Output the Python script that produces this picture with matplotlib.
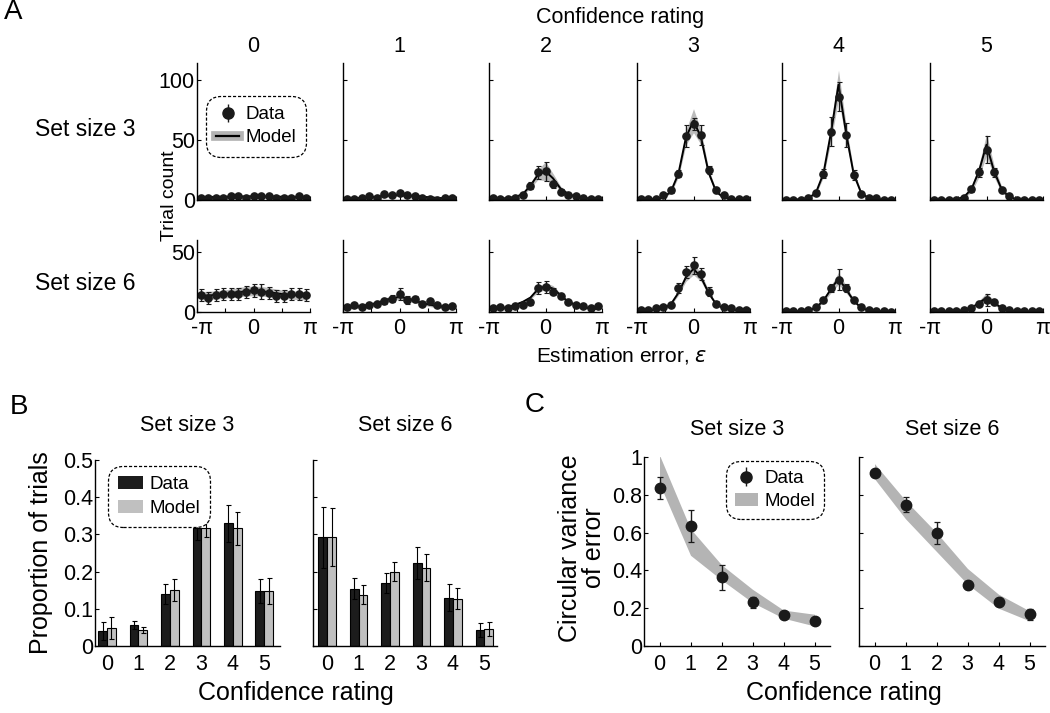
import matplotlib
matplotlib.use("Agg")
import matplotlib.pyplot as plt
import numpy as np
from matplotlib.lines import Line2D
from matplotlib.patches import Patch

plt.rcParams["font.family"] = ["Liberation Sans", "DejaVu Sans"]
plt.rcParams["axes.linewidth"] = 1.0

W, H = 1050, 713

# ---------------- Panel A data: 15 error bins, confidence 0..5 ----------------
ratings = [0, 1, 2, 3, 4, 5]
n_bins = 15

counts_ss3 = [
    [2, 2, 2, 2, 3, 3, 2, 3, 3, 3, 2, 2, 2, 3, 2],
    [1, 1, 2, 3, 2, 5, 4, 6, 4, 3, 2, 1, 0, 2, 2],
    [2, 1, 1, 2, 4, 12, 23, 24, 13, 7, 4, 3, 2, 1, 1],
    [1, 1, 1, 4, 8, 22, 53, 63, 54, 25, 8, 4, 1, 1, 1],
    [0, 0, 0, 2, 6, 22, 57, 86, 54, 21, 5, 2, 2, 0, 0],
    [0, 0, 0, 0, 2, 9, 23, 42, 23, 8, 3, 0, 0, 0, 0],
]
err_ss3 = [
    [0.8, 0.8, 0.8, 0.8, 0.8, 0.8, 0.8, 0.8, 0.8, 0.8, 0.8, 0.8, 0.8, 0.8, 0.8],
    [0.8, 0.8, 0.8, 1, 1, 1.5, 1.5, 1.5, 1.5, 1, 1, 0.8, 0.8, 0.8, 0.8],
    [1, 1, 1, 1, 1.5, 3, 5.5, 8, 3, 2, 1.5, 1, 1, 1, 1],
    [0.8, 0.8, 0.8, 1, 2, 3, 9, 5, 8, 3, 2, 1, 0.8, 0.8, 0.8],
    [0.5, 0.5, 0.5, 1, 2, 4, 12, 12, 10, 4, 2, 1, 1, 0.5, 0.5],
    [0.5, 0.5, 0.5, 0.5, 1, 2, 4, 11, 4, 2, 1, 0.5, 0.5, 0.5, 0.5],
]
model_ss3 = [
    [2.3, 2.4, 2.5, 2.6, 2.7, 2.8, 2.9, 3.0, 2.9, 2.8, 2.7, 2.6, 2.5, 2.4, 2.3],
    [1.2, 1.4, 1.8, 2.2, 2.8, 3.4, 3.9, 4.1, 3.9, 3.4, 2.8, 2.2, 1.8, 1.4, 1.2],
    [1, 1.2, 1.6, 2.5, 5, 12, 21, 24, 18, 9.5, 5, 2.8, 1.8, 1.2, 1],
    [0.5, 0.7, 1, 2, 7, 22, 52, 66, 52, 23, 7, 2, 1, 0.7, 0.5],
    [0.3, 0.4, 0.6, 1.5, 6, 22, 56, 96, 56, 22, 6, 1.5, 0.6, 0.4, 0.3],
    [0.2, 0.3, 0.4, 0.7, 2.5, 9, 24, 46, 24, 9, 2.5, 0.7, 0.4, 0.3, 0.2],
]
band_ss3 = [
    [1.5, 1.5, 1.5, 1.5, 1.5, 1.5, 1.5, 1.5, 1.5, 1.5, 1.5, 1.5, 1.5, 1.5, 1.5],
    [1, 1, 1, 1, 1, 1, 1, 1, 1, 1, 1, 1, 1, 1, 1],
    [0.5, 0.5, 0.5, 0.8, 1.2, 2, 4, 8, 4, 2, 1.2, 0.8, 0.5, 0.5, 0.5],
    [0.3, 0.3, 0.4, 0.6, 1.5, 3, 6, 10, 6, 3, 1.5, 0.6, 0.4, 0.3, 0.3],
    [0.2, 0.2, 0.3, 0.5, 1.5, 3, 7, 12, 7, 3, 1.5, 0.5, 0.3, 0.2, 0.2],
    [0.2, 0.2, 0.3, 0.4, 1, 2.5, 5, 9, 5, 2.5, 1, 0.4, 0.3, 0.2, 0.2],
]

counts_ss6 = [
    [14, 12, 14, 15, 15, 15, 17, 18, 17, 16, 13, 13, 15, 15, 14],
    [4, 6, 4, 6, 7, 9, 11, 15, 10, 11, 7, 9, 6, 4, 5],
    [3, 4, 3, 5, 6, 8, 20, 21, 17, 13, 8, 6, 5, 3, 5],
    [2, 2, 3, 4, 6, 20, 33, 39, 32, 17, 7, 4, 3, 2, 2],
    [1, 1, 1, 2, 4, 10, 20, 27, 20, 10, 4, 2, 1, 1, 0],
    [1, 1, 1, 1, 2, 3, 7, 10, 8, 3, 2, 1, 1, 1, 1],
]
err_ss6 = [
    [5, 5, 5, 5, 5, 5, 5, 5.5, 6, 5, 5, 5, 5, 5, 5],
    [1.5, 1.5, 1.5, 1.5, 2, 2.5, 3, 5, 3, 2.5, 2, 2, 1.5, 1.5, 1.5],
    [1, 1, 1, 1, 1.5, 2, 5, 5, 3, 2, 1.5, 1, 1, 1, 1],
    [0.8, 0.8, 1, 1, 1.5, 4, 5, 7, 5, 4, 2, 1, 1, 0.8, 0.8],
    [0.5, 0.5, 0.5, 0.5, 1, 2, 3, 9, 3, 2, 1, 0.5, 0.5, 0.5, 0.5],
    [0.5, 0.5, 0.5, 0.5, 0.5, 1, 2, 5, 2, 1, 0.5, 0.5, 0.5, 0.5, 0.5],
]
model_ss6 = [
    [13.5, 13.8, 14.2, 14.8, 15.6, 16.5, 17.3, 17.6, 17.3, 16.5, 15.6, 14.8, 14.2, 13.8, 13.5],
    [4, 4.3, 5, 6, 7.5, 9.5, 11.5, 12.5, 11.5, 9.5, 7.5, 6, 5, 4.3, 4],
    [2.5, 3, 4, 6, 8.5, 12, 19, 21.5, 19.5, 14, 8.5, 6, 4, 3, 2.5],
    [1, 1.2, 1.8, 3, 6.5, 16, 29, 36, 29, 16, 6.5, 3, 1.8, 1.2, 1],
    [0.5, 0.6, 0.8, 1.3, 3.5, 9.5, 19, 28, 19, 9.5, 3.5, 1.3, 0.8, 0.6, 0.5],
    [0.5, 0.5, 0.6, 0.8, 1.5, 3.5, 7.5, 12, 7.5, 3.5, 1.5, 0.8, 0.6, 0.5, 0.5],
]
band_ss6 = [
    [3.5, 3.5, 3.5, 3.5, 3.5, 4, 4, 4, 4, 4, 3.5, 3.5, 3.5, 3.5, 3.5],
    [1.5, 1.5, 1.5, 1.5, 1.5, 2, 2, 2, 2, 2, 1.5, 1.5, 1.5, 1.5, 1.5],
    [0.5, 0.5, 0.6, 0.8, 1, 1.5, 2.5, 3, 2.5, 1.5, 1, 0.8, 0.6, 0.5, 0.5],
    [0.3, 0.3, 0.4, 0.6, 1, 2, 3.5, 5, 3.5, 2, 1, 0.6, 0.4, 0.3, 0.3],
    [0.2, 0.2, 0.3, 0.4, 0.8, 1.5, 3, 5, 3, 1.5, 0.8, 0.4, 0.3, 0.2, 0.2],
    [0.2, 0.2, 0.2, 0.3, 0.5, 1, 2, 4, 2, 1, 0.5, 0.3, 0.2, 0.2, 0.2],
]

# ---------------- Panel B data: proportion of trials ----------------
prop_data_ss3 = [0.040, 0.056, 0.140, 0.316, 0.330, 0.148]
prop_data_err_ss3 = [0.025, 0.010, 0.026, 0.030, 0.050, 0.032]
prop_model_ss3 = [0.049, 0.043, 0.150, 0.316, 0.316, 0.148]
prop_model_err_ss3 = [0.030, 0.009, 0.030, 0.022, 0.045, 0.035]

prop_data_ss6 = [0.292, 0.154, 0.170, 0.223, 0.130, 0.043]
prop_data_err_ss6 = [0.083, 0.028, 0.027, 0.042, 0.037, 0.020]
prop_model_ss6 = [0.292, 0.138, 0.200, 0.210, 0.127, 0.046]
prop_model_err_ss6 = [0.078, 0.025, 0.025, 0.036, 0.028, 0.018]

# ---------------- Panel C data: circular variance ----------------
cv_data_ss3 = [0.836, 0.636, 0.364, 0.231, 0.164, 0.130]
cv_err_ss3 = [0.058, 0.086, 0.066, 0.030, 0.015, 0.010]
cv_model_lo_ss3 = [0.86, 0.48, 0.35, 0.23, 0.147, 0.106]
cv_model_hi_ss3 = [1.01, 0.62, 0.43, 0.30, 0.19, 0.168]

cv_data_ss6 = [0.915, 0.747, 0.598, 0.322, 0.234, 0.168]
cv_err_ss6 = [0.012, 0.040, 0.057, 0.020, 0.012, 0.030]
cv_model_lo_ss6 = [0.885, 0.673, 0.50, 0.327, 0.20, 0.133]
cv_model_hi_ss6 = [0.965, 0.77, 0.60, 0.41, 0.274, 0.186]

BAND_GRAY = "#b4b4b4"
BAR_DARK = "#1c1c1c"
BAR_LIGHT = "#c0c0c0"

TICK_FS = 15.5
LABEL_FS = 18
HEAD_FS = 15.5

fig = plt.figure(figsize=(W / 100, H / 100), dpi=100)


def px_axes(x0, y0, x1, y1):
    return fig.add_axes([x0 / W, 1 - y1 / H, (x1 - x0) / W, (y1 - y0) / H])


def clean(ax):
    ax.spines["top"].set_visible(False)
    ax.spines["right"].set_visible(False)
    ax.tick_params(direction="in", length=3, width=0.8, labelsize=TICK_FS, pad=2)
    ax.tick_params(axis="x", pad=4)
    ax.tick_params(axis="y", pad=1.5)


def dashed_legend(leg):
    frame = leg.get_frame()
    frame.set_linestyle((0, (2.5, 1.5)))
    frame.set_edgecolor("black")
    frame.set_linewidth(0.9)
    frame.set_boxstyle("round,pad=0.2,rounding_size=0.8")


# ---------------- Panel A ----------------
x_centers = -np.pi + (2 * np.arange(n_bins) + 1) * np.pi / n_bins
col_left = [197, 343, 489, 637, 782, 930]
col_w = 113

rows = [
    (counts_ss3, err_ss3, model_ss3, band_ss3, 63, 200, 114, [0, 50, 100]),
    (counts_ss6, err_ss6, model_ss6, band_ss6, 240, 312, 60, [0, 50]),
]

for r, (cnt, err, mod, band, y0, y1, ymax, yt) in enumerate(rows):
    for c in range(6):
        ax = px_axes(col_left[c], y0, col_left[c] + col_w, y1)
        clean(ax)
        m = np.array(mod[c])
        b = np.array(band[c])
        ax.fill_between(x_centers, m - b, m + b, color=BAND_GRAY, lw=0, alpha=0.9)
        ax.plot(x_centers, m, color="black", lw=1.4)
        ax.errorbar(x_centers, cnt[c], yerr=err[c], fmt="o", color="#1a1a1a",
                    ms=5.2, elinewidth=1.0, capsize=1.8, capthick=0.8)
        ax.set_xlim(-np.pi, np.pi)
        ax.set_ylim(0, ymax)
        ax.set_yticks(yt)
        ax.set_xticks([-np.pi, -np.pi / 2, 0, np.pi / 2, np.pi])
        if r == 1 and c == 0:
            # first "-π" sits a little right, clear of the "0" y tick label
            ax.set_xticklabels(["", "", "0", "", "π"])
            ax.annotate("-π", xy=(-np.pi, 0), xycoords=("data", "axes fraction"),
                        xytext=(4, -4), textcoords="offset points",
                        ha="center", va="top", fontsize=TICK_FS)
        elif r == 1:
            ax.set_xticklabels(["-π", "", "0", "", "π"])
        else:
            ax.set_xticklabels([])
        if c == 0:
            ax.set_yticklabels([str(v) for v in yt])
        else:
            ax.set_yticklabels([])
        if r == 0:
            fig.text((col_left[c] + col_w / 2) / W, 1 - 47 / H, str(ratings[c]),
                     ha="center", va="center", fontsize=HEAD_FS)
        if r == 0 and c == 0:
            h_data = ax.errorbar([], [], yerr=[], fmt="o", color="#1a1a1a", ms=8,
                                 elinewidth=1.0, capsize=3, capthick=1.0)
            h_model = (Line2D([], [], color=BAND_GRAY, lw=7),
                       Line2D([], [], color="black", lw=1.6))
            leg = ax.legend([h_data, h_model], ["Data", "Model"], loc="upper left",
                            bbox_to_anchor=(0.03, 0.8), fontsize=13.5, frameon=True,
                            handlelength=1.2, handletextpad=0.35, borderpad=0.35,
                            labelspacing=0.3, framealpha=1)
            dashed_legend(leg)

fig.text(620 / W, 1 - 17 / H, "Confidence rating", ha="center", va="center", fontsize=HEAD_FS)
fig.text(622 / W, 1 - 355 / H, "Estimation error, $\\it{\\varepsilon}$", ha="center",
         va="center", fontsize=15)
fig.text(85 / W, 1 - 130 / H, "Set size 3", ha="center", va="center", fontsize=16.5)
fig.text(85 / W, 1 - 283 / H, "Set size 6", ha="center", va="center", fontsize=16.5)
fig.text(170 / W, 1 - 196 / H, "Trial count", ha="center", va="center", rotation=90,
         fontsize=14)

# ---------------- Panel B ----------------
bw = 0.28
b_specs = [
    (95, 280, prop_data_ss3, prop_data_err_ss3, prop_model_ss3, prop_model_err_ss3, "Set size 3", (-0.38, 5.5)),
    (313, 497, prop_data_ss6, prop_data_err_ss6, prop_model_ss6, prop_model_err_ss6, "Set size 6", (-0.45, 5.4)),
]
for i, (x0, x1, dv, de, mv, me, title, xl) in enumerate(b_specs):
    ax = px_axes(x0, 460, x1, 646)
    clean(ax)
    xs = np.array(ratings)
    ax.bar(xs - bw / 2, dv, width=bw, color=BAR_DARK, edgecolor="black", lw=0.8)
    ax.bar(xs + bw / 2, mv, width=bw, color=BAR_LIGHT, edgecolor="black", lw=0.8)
    ax.errorbar(xs - bw / 2, dv, yerr=de, fmt="none", ecolor="black", elinewidth=0.8,
                capsize=1.8, capthick=0.8)
    ax.errorbar(xs + bw / 2, mv, yerr=me, fmt="none", ecolor="black", elinewidth=0.8,
                capsize=1.8, capthick=0.8)
    ax.set_xlim(*xl)
    ax.set_ylim(0, 0.5)
    ax.set_xticks(ratings)
    ax.tick_params(axis="x", length=0, pad=6)
    ax.set_yticks([0, 0.1, 0.2, 0.3, 0.4, 0.5])
    if i == 0:
        ax.set_yticklabels(["0", "0.1", "0.2", "0.3", "0.4", "0.5"])
        ax.set_ylabel("Proportion of trials", fontsize=LABEL_FS, labelpad=7)
        leg = ax.legend([Patch(facecolor=BAR_DARK, edgecolor="none"),
                         Patch(facecolor=BAR_LIGHT, edgecolor="none")],
                        ["Data", "Model"], loc="upper left", bbox_to_anchor=(0.04, 1.0),
                        fontsize=13.5, handlelength=1.3, handleheight=0.7,
                        handletextpad=0.35, borderpad=0.35, labelspacing=0.35,
                        framealpha=1)
        dashed_legend(leg)
    else:
        ax.set_yticklabels([])
    ax.set_title(title, fontsize=HEAD_FS, pad=21)

fig.text(10 / W, 1 - 407 / H, "B", ha="left", va="center", fontsize=20)
fig.text(296 / W, 1 - 693 / H, "Confidence rating", ha="center", va="center", fontsize=LABEL_FS)

# ---------------- Panel C ----------------
c_specs = [
    (644, 830, cv_data_ss3, cv_err_ss3, cv_model_lo_ss3, cv_model_hi_ss3, "Set size 3"),
    (859, 1045, cv_data_ss6, cv_err_ss6, cv_model_lo_ss6, cv_model_hi_ss6, "Set size 6"),
]
for i, (x0, x1, dv, de, lo, hi, title) in enumerate(c_specs):
    ax = px_axes(x0, 457, x1, 646)
    clean(ax)
    ax.fill_between(ratings, lo, hi, color=BAND_GRAY, lw=0)
    ax.errorbar(ratings, dv, yerr=de, fmt="o", color="#1a1a1a", ms=7.5,
                elinewidth=1.0, capsize=2, capthick=0.9)
    ax.set_xlim(-0.5, 5.5)
    ax.set_ylim(0, 1)
    ax.set_xticks(ratings)
    ax.tick_params(axis="x", pad=6)
    ax.set_yticks([0, 0.2, 0.4, 0.6, 0.8, 1.0])
    if i == 0:
        ax.set_yticklabels(["0", "0.2", "0.4", "0.6", "0.8", "1"])
        h_data = ax.errorbar([], [], yerr=[], fmt="o", color="#1a1a1a", ms=8,
                             elinewidth=1.0, capsize=3, capthick=1.0)
        leg = ax.legend([h_data, Patch(facecolor=BAND_GRAY, edgecolor="none")],
                        ["Data", "Model"], loc="upper right", bbox_to_anchor=(1.0, 1.01),
                        fontsize=13.5, handlelength=1.2, handleheight=0.7,
                        handletextpad=0.35, borderpad=0.3, labelspacing=0.3,
                        framealpha=1)
        dashed_legend(leg)
    else:
        ax.set_yticklabels([])
    ax.set_title(title, fontsize=HEAD_FS, pad=16)

fig.text(525 / W, 1 - 405 / H, "C", ha="left", va="center", fontsize=20)
fig.text(844 / W, 1 - 693 / H, "Confidence rating", ha="center", va="center", fontsize=LABEL_FS)
fig.text(582 / W, 1 - 548 / H, "Circular variance\nof error", ha="center", va="center",
         rotation=90, fontsize=LABEL_FS, linespacing=1.0)
fig.text(4 / W, 1 - 12 / H, "A", ha="left", va="center", fontsize=20)

fig.savefig("out.png", dpi=100)
